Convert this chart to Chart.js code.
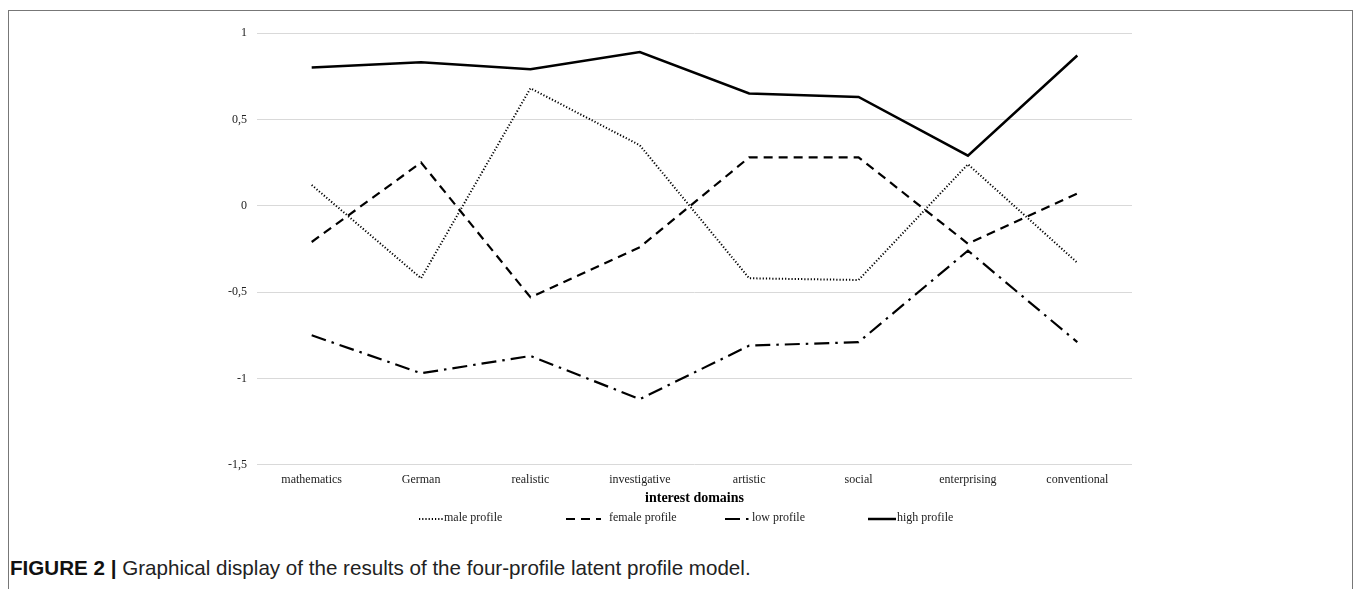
<!DOCTYPE html>
<html>
<head>
<meta charset="utf-8">
<script src="https://cdn.jsdelivr.net/npm/chart.js@4"></script>
<style>
  html, body { margin: 0; padding: 0; background: #fff; overflow: hidden; }
  body { width: 1356px; height: 589px; position: relative; }
  #frame { position: absolute; left: 8px; top: 10px; width: 1345px; height: 600px; border: 1px solid #777; border-bottom: none; box-sizing: border-box; }
  #wrap { position: absolute; left: 0; top: 0; width: 1356px; height: 545px; }
  #caption { position: absolute; left: 10px; top: 556px; font-family: "Liberation Sans", Arial, sans-serif; font-size: 20.6px; color: #222; white-space: nowrap; }
  #caption b { color: #111; }
</style>
</head>
<body>
<div id="frame"></div>
<div id="wrap"><canvas id="c" width="1356" height="545"></canvas></div>
<div id="caption"><b>FIGURE 2 |</b> Graphical display of the results of the four-profile latent profile model.</div>
<script>
const categories = ["mathematics", "German", "realistic", "investigative", "artistic", "social", "enterprising", "conventional"];
const maleProfile   = [0.12, -0.42, 0.68, 0.35, -0.42, -0.43, 0.24, -0.33];
const femaleProfile = [-0.21, 0.25, -0.53, -0.24, 0.28, 0.28, -0.22, 0.07];
const lowProfile    = [-0.75, -0.97, -0.87, -1.12, -0.81, -0.79, -0.26, -0.79];
const highProfile   = [0.80, 0.83, 0.79, 0.89, 0.65, 0.63, 0.29, 0.87];
const yTicks = [1, 0.5, 0, -0.5, -1, -1.5];
const seriesNames = ["male profile", "female profile", "low profile", "high profile"];
const xTitle = "interest domains";

const serif = '"Liberation Serif", "Times New Roman", serif';

const legendPlugin = {
  id: 'customLegend',
  afterDraw(chart) {
    const ctx = chart.ctx;
    const y = 519;
    const layout = [
      { lx0: 419, lx1: 443, tx: 444 },
      { lx0: 566, lx1: 601, tx: 609 },
      { lx0: 725, lx1: 750, tx: 752 },
      { lx0: 868, lx1: 896, tx: 897 }
    ];
    chart.data.datasets.forEach((ds, i) => {
      const p = layout[i];
      ctx.save();
      ctx.strokeStyle = '#000';
      ctx.lineWidth = ds.borderWidth;
      ctx.setLineDash(ds.borderDash || []);
      ctx.beginPath();
      ctx.moveTo(p.lx0, y);
      ctx.lineTo(p.lx1, y);
      ctx.stroke();
      ctx.setLineDash([]);
      ctx.fillStyle = '#222';
      ctx.font = '12px ' + serif;
      ctx.textBaseline = 'middle';
      ctx.textAlign = 'left';
      ctx.fillText(ds.label, p.tx, y - 1);
      ctx.restore();
    });
  }
};

new Chart(document.getElementById('c'), {
  type: 'line',
  data: {
    labels: categories,
    datasets: [
      { label: seriesNames[0], data: maleProfile, borderColor: '#000', borderWidth: 2, borderDash: [1.2, 2], pointRadius: 0, tension: 0 },
      { label: seriesNames[1], data: femaleProfile, borderColor: '#000', borderWidth: 2.2, borderDash: [9, 6], pointRadius: 0, tension: 0 },
      { label: seriesNames[2], data: lowProfile, borderColor: '#000', borderWidth: 2.2, borderDash: [15, 6, 2.5, 6], pointRadius: 0, tension: 0 },
      { label: seriesNames[3], data: highProfile, borderColor: '#000', borderWidth: 2.5, pointRadius: 0, tension: 0 }
    ]
  },
  options: {
    responsive: false,
    animation: false,
    devicePixelRatio: 1,
    layout: { padding: { top: 33, right: 224, bottom: 38, left: 0 } },
    plugins: { legend: { display: false }, tooltip: { enabled: false } },
    scales: {
      x: {
        offset: true,
        grid: { display: false },
        border: { display: false },
        ticks: { font: { family: serif, size: 12 }, color: '#222', padding: 0, maxRotation: 0 },
        title: { display: true, text: xTitle, font: { family: serif, size: 14, weight: 'bold' }, color: '#000', padding: { top: 3, bottom: 0 } }
      },
      y: {
        min: -1.5, max: 1,
        afterFit(scale) { scale.width = 257; },
        afterBuildTicks(scale) { scale.ticks = yTicks.map(v => ({ value: v })); },
        grid: { color: '#d9d9d9', lineWidth: 1, drawTicks: false },
        border: { display: false },
        ticks: { font: { family: serif, size: 12 }, color: '#222', padding: 10,
          callback: v => String(v).replace('.', ',') }
      }
    }
  },
  plugins: [legendPlugin]
});
</script>
</body>
</html>
